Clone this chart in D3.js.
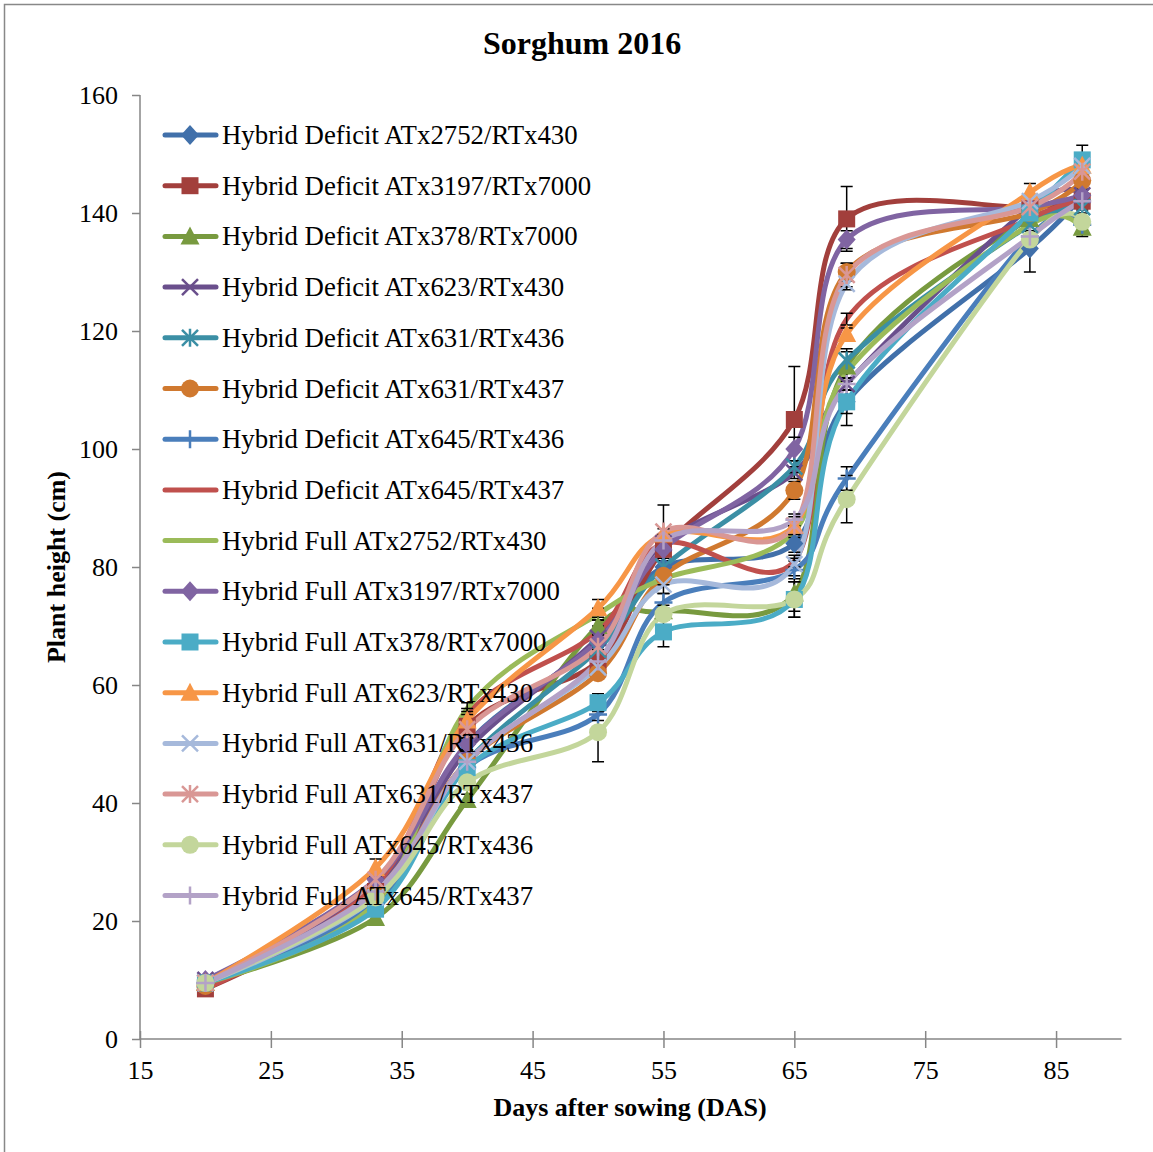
<!DOCTYPE html>
<html><head><meta charset="utf-8">
<script src="https://cdn.jsdelivr.net/npm/d3@7"></script>
<style>body{margin:0;background:#fff}svg{display:block}</style>
</head><body>
<script>
const days = [20, 33, 40, 50, 55, 65, 69, 83, 87];
const xTicks = [15, 25, 35, 45, 55, 65, 75, 85];
const yTicks = [0, 20, 40, 60, 80, 100, 120, 140, 160];
const seriesNames = [
  "Hybrid Deficit ATx2752/RTx430","Hybrid Deficit ATx3197/RTx7000","Hybrid Deficit ATx378/RTx7000",
  "Hybrid Deficit ATx623/RTx430","Hybrid Deficit ATx631/RTx436","Hybrid Deficit ATx631/RTx437",
  "Hybrid Deficit ATx645/RTx436","Hybrid Deficit ATx645/RTx437","Hybrid Full ATx2752/RTx430",
  "Hybrid Full ATx3197/RTx7000","Hybrid Full ATx378/RTx7000","Hybrid Full ATx623/RTx430",
  "Hybrid Full ATx631/RTx436","Hybrid Full ATx631/RTx437","Hybrid Full ATx645/RTx436",
  "Hybrid Full ATx645/RTx437"];
const s1 = [9.5, 24, 50, 67, 80, 84, 108, 134, 143];
const s2 = [8.5, 25, 53, 64, 83, 105, 139, 141, 142];
const s3 = [9.5, 20.5, 40.5, 70, 72.5, 75.5, 114, 139, 137.5];
const s4 = [10, 26, 49, 68, 84, 96, 111, 141, 143];
const s5 = [9.5, 23, 47, 66, 80, 97, 115, 138, 141];
const s6 = [9, 25, 47, 62, 78.5, 93, 130, 140, 145.5];
const s7 = [9.5, 23, 46, 55, 74, 79.5, 95, 136, 138];
const s8 = [8.5, 26, 55, 69, 84, 81, 122, 139, 142];
const s9 = [9.5, 23, 56, 72, 78, 86, 113, 138, 137];
const s10 = [10, 27, 50, 67.5, 83, 100, 135.5, 141, 143];
const s11 = [9.5, 22, 46, 57, 69, 74.5, 108, 140, 149];
const s12 = [9.5, 29, 54, 73, 85.5, 87, 119.5, 143.5, 148];
const s13 = [9.5, 24, 47, 63, 77, 80.5, 128, 142, 148];
const s14 = [9.5, 27, 52.5, 66.5, 86, 87, 129.5, 141, 147];
const s15 = [9.5, 24, 43.5, 52, 72, 74.5, 91.5, 135.5, 138.5];
const s16 = [9.5, 25, 47, 64, 84.5, 88, 111, 136, 142];
const e1 = [0, 0.5, 1, 1.5, 1, 1.5, 2, 4, 1];
const e2 = [0, 0.5, 1, 2, 1, 9, 5.5, 1, 1];
const e3 = [0, 0.5, 1, 1, 1, 3, 2.5, 1, 1];
const e4 = [0, 0.5, 1, 1, 1, 1, 1, 1, 1];
const e5 = [0, 0.5, 1, 1, 1, 1, 2, 1, 1];
const e6 = [0, 0.5, 1, 1, 1, 1.5, 1.5, 1, 1];
const e7 = [0, 0.5, 1, 1, 1.5, 1.5, 2, 1, 1];
const e8 = [0, 0.5, 1, 1, 1, 1, 1, 1, 1];
const e9 = [0, 0.5, 1, 1, 1, 1, 1, 1, 1];
const e10 = [0, 0.5, 1, 1, 1, 2, 1.5, 1, 1];
const e11 = [0, 0.5, 1, 1.5, 2.5, 3, 4, 1, 2.5];
const e12 = [0, 1.5, 1.5, 1.5, 1, 1, 1, 1.5, 1];
const e13 = [0, 0.5, 1, 1, 1.5, 1, 1, 1, 1];
const e14 = [0, 0.5, 1, 1, 4.5, 1.5, 2, 1, 1];
const e15 = [0, 0.5, 1, 5, 1, 3, 4, 1, 2];
const e16 = [0, 0.5, 1, 1, 1, 1, 1, 1, 1];
const values = [s1,s2,s3,s4,s5,s6,s7,s8,s9,s10,s11,s12,s13,s14,s15,s16];
const errors = [e1,e2,e3,e4,e5,e6,e7,e8,e9,e10,e11,e12,e13,e14,e15,e16];
const colors = ["#4170AA","#A23F3C","#789A3F","#6A4F8C","#3B8FA5","#D0792F","#4A7EBB","#C0504D",
  "#9BBB59","#8064A2","#4BACC6","#F79646","#A6B9DB","#D99795","#C3D69B","#B3A2C7"];
const markers = ["diamond","square","triangle","x","star","circle","plus","none",
  "none","diamond","square","triangle","x","star","circle","plus"];

const W = 1153, H = 1152;
const svg = d3.select("body").append("svg").attr("width", W).attr("height", H);
svg.append("rect").attr("x",4.5).attr("y",4.5).attr("width",1180).attr("height",1180)
  .attr("fill","#fff").attr("stroke","#888").attr("stroke-width",1.5);

const x = d3.scaleLinear().domain([15, 90]).range([140, 1121.5]);
const y = d3.scaleLinear().domain([0, 160]).range([1039, 95]);
const serif = "'Liberation Serif','Times New Roman',serif";

svg.append("text").attr("x",582).attr("y",54).attr("text-anchor","middle")
  .attr("font-family",serif).attr("font-weight","bold").attr("font-size",32).text("Sorghum 2016");

const axisColor = "#868686";
const yAx = svg.append("g").attr("transform","translate(140,0)")
  .call(d3.axisLeft(y).tickValues(yTicks).tickSize(8).tickPadding(14));
const xAx = svg.append("g").attr("transform","translate(0,1039)")
  .call(d3.axisBottom(x).tickValues(xTicks).tickSize(9).tickPadding(13));
[yAx, xAx].forEach(g => {
  g.select(".domain").attr("stroke",axisColor).attr("stroke-width",1.5);
  g.selectAll(".tick line").attr("stroke",axisColor).attr("stroke-width",1.5);
  g.selectAll("text").attr("font-family",serif).attr("font-size",26).attr("fill","#000");
});
xAx.select(".domain").attr("d","M140.5,0H1121.5");
yAx.select(".domain").attr("d","M0,95V1039");
yAx.selectAll(".tick line").attr("x1",0).attr("x2",-8);
xAx.selectAll(".tick line").attr("y1",-8).attr("y2",9);

svg.append("text").attr("x",630).attr("y",1116).attr("text-anchor","middle")
  .attr("font-family",serif).attr("font-weight","bold").attr("font-size",26).text("Days after sowing (DAS)");
svg.append("text").attr("transform","translate(65,567) rotate(-90)").attr("text-anchor","middle")
  .attr("font-family",serif).attr("font-weight","bold").attr("font-size",26).text("Plant height (cm)");

function drawMarker(g, type, cx, cy, color) {
  const s = 9;
  if (type === "diamond") g.append("path").attr("d",`M${cx},${cy-s-1}L${cx+s},${cy}L${cx},${cy+s+1}L${cx-s},${cy}Z`).attr("fill",color);
  else if (type === "square") g.append("rect").attr("x",cx-8.5).attr("y",cy-8.5).attr("width",17).attr("height",17).attr("fill",color);
  else if (type === "triangle") g.append("path").attr("d",`M${cx},${cy-10}L${cx+9.5},${cy+8}L${cx-9.5},${cy+8}Z`).attr("fill",color);
  else if (type === "circle") g.append("circle").attr("cx",cx).attr("cy",cy).attr("r",9).attr("fill",color);
  else if (type === "x") g.append("path").attr("d",`M${cx-8},${cy-8}L${cx+8},${cy+8}M${cx-8},${cy+8}L${cx+8},${cy-8}`).attr("stroke",color).attr("stroke-width",2.5);
  else if (type === "plus") g.append("path").attr("d",`M${cx-9},${cy}L${cx+9},${cy}M${cx},${cy-9}L${cx},${cy+9}`).attr("stroke",color).attr("stroke-width",2.5);
  else if (type === "star") g.append("path").attr("d",`M${cx-8},${cy-8}L${cx+8},${cy+8}M${cx-8},${cy+8}L${cx+8},${cy-8}M${cx},${cy-9}L${cx},${cy+9}`).attr("stroke",color).attr("stroke-width",2.5);
}

const line = d3.line().x(d => x(d[0])).y(d => y(d[1])).curve(d3.curveCardinal.tension(0));
const lineLayer = svg.append("g");
const ebLayer = svg.append("g").attr("stroke","#000").attr("stroke-width",1.5);
const markLayer = svg.append("g");
values.forEach((vals, i) => {
  const pts = days.map((d, j) => [d, vals[j]]);
  lineLayer.append("path").attr("d", line(pts)).attr("fill","none").attr("stroke",colors[i])
    .attr("stroke-width",5).attr("stroke-linecap","round").attr("stroke-linejoin","round");
  pts.forEach((p, j) => {
    const err = errors[i][j];
    if (err > 0) {
      const cx = x(p[0]), lo = y(p[1] - err), hi = y(p[1] + err);
      ebLayer.append("path").attr("d",`M${cx},${lo}V${hi}M${cx-6},${lo}H${cx+6}M${cx-6},${hi}H${cx+6}`);
    }
    drawMarker(markLayer, markers[i], x(p[0]), y(p[1]), colors[i]);
  });
});

const lg = svg.append("g");
seriesNames.forEach((name, i) => {
  const cy = 135 + i * 50.7;
  const c = colors[i];
  lg.append("line").attr("x1",165).attr("x2",216).attr("y1",cy).attr("y2",cy)
    .attr("stroke",c).attr("stroke-width",5).attr("stroke-linecap","round");
  drawMarker(lg, markers[i], 190, cy, c);
  lg.append("text").attr("x",222).attr("y",cy+9).attr("font-family",serif).attr("font-size",26.8)
    .attr("fill","#000").text(name);
});
</script>
</body></html>
